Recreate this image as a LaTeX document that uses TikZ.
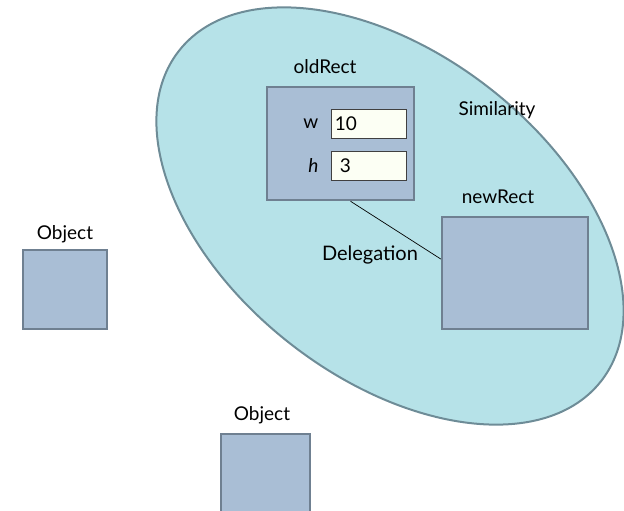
\documentclass[tikz,border=0pt]{standalone}
\usepackage{fontspec}
\setmainfont{Lato}
\usetikzlibrary{positioning}
\usetikzlibrary{shapes.geometric}
\definecolor{simfill}{HTML}{B6E2E8}
\definecolor{simline}{HTML}{6E8C97}
\definecolor{objfill}{HTML}{A9BED5}
\definecolor{objline}{HTML}{6F8091}
\definecolor{valfill}{HTML}{FCFFF4}

\begin{document}
\begin{tikzpicture}[x=1pt,y=-1pt,
	objbox/.style={draw=objline,fill=objfill,line width=2.5pt,inner sep=0pt},
	valbox/.style={draw=black!75,fill=valfill,line width=0.8pt,inner sep=0pt,minimum width=75pt,minimum height=29pt},
	simarea/.style={ellipse,draw=simline,fill=simfill,line width=2pt,inner sep=0pt},
	lbl/.style={font=\fontsize{19}{22}\selectfont,inner sep=0pt}]
	\useasboundingbox (0,0) rectangle (624,511);

	% similarity area
	\node[simarea,rotate=-38,minimum width=536pt,minimum height=324pt] (sim) at (390,216) {};
	\node[lbl] (simlbl) at (497,110) {Similarity};

	% old rectangle with its fields
	\node[objbox,minimum width=147pt,minimum height=113pt] (oldRect) at (340.5,143.5) {};
	\node[lbl] (oldlbl) at (325,67) {oldRect};
	\node[valbox] (wval) at (368.5,123.5) {};
	\node[valbox] (hval) at (368.5,165.5) {};
	\node[lbl,left=12pt of wval] (wlbl) {w};
	\node[lbl,left=12pt of hval] (hlbl) {\itshape h};
	\node[lbl,anchor=west] (wnum) at ([xshift=4pt]wval.west) {10};
	\node[lbl,anchor=west] (hnum) at ([xshift=9pt]hval.west) {3};

	% new rectangle
	\node[objbox,minimum width=146pt,minimum height=112pt] (newRect) at (515,273) {};
	\node[lbl] (newlbl) at (498,197) {newRect};

	\draw[black,line width=0.7pt] ([xshift=10pt]oldRect.south) -- ([yshift=14pt]newRect.west);
	\node[lbl,font=\fontsize{20}{23}\selectfont] (dellbl) at (370,255) {Delegation};

	% plain objects
	\node[objbox,minimum width=84pt,minimum height=79pt] (obj1) at (65,289.5) {};
	\node[lbl] (obj1lbl) at (65,234) {Object};
	\node[objbox,minimum width=89pt,minimum height=110pt] (obj2) at (265.5,489) {};
	\node[lbl] (obj2lbl) at (262,415) {Object};
\end{tikzpicture}
\end{document}
